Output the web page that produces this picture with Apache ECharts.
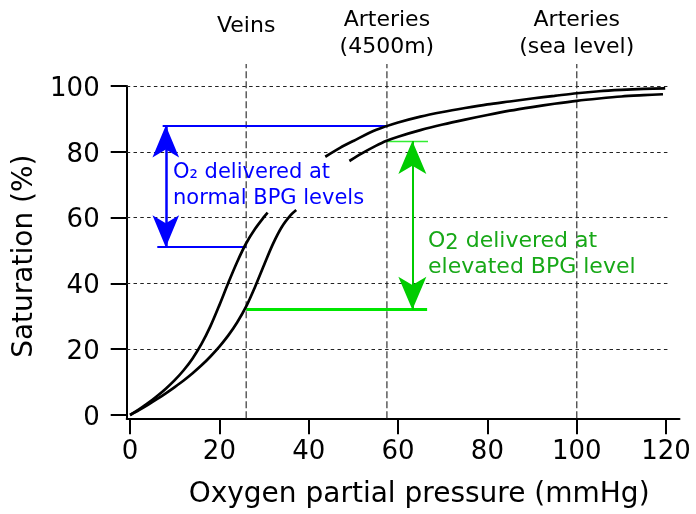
<!DOCTYPE html>
<html><head><meta charset="utf-8">
<script src="https://cdn.jsdelivr.net/npm/echarts@6/dist/echarts.min.js"></script>
<style>html,body{margin:0;padding:0;background:#fff}#c{width:696px;height:514px}</style>
</head><body><div id="c"></div><script>
// ---- data ----
const xTicks = [0, 20, 40, 60, 80, 100, 120];
const yTicks = [0, 20, 40, 60, 80, 100];
// saturation curve, normal BPG (left curve), split where the blue label sits
const normalLow = [[0,0],[2,1.7],[4,3.6],[6,5.7],[8,8],[10,10.6],[12,13.6],[14,17.2],[16,21.6],[18,27],
  [20,33.4],[22,40.2],[24,46.6],[26,52.2],[28,56.6],[30,60.2],[30.8,61.5]];
const normalHigh = [[43.7,78.5],[47,81.2],[50,83.3],[55,86.6],[60,88.9],[65,90.7],[70,92.1],[75,93.3],[80,94.4],
  [85,95.3],[90,96.2],[95,97],[100,97.8],[105,98.4],[110,98.8],[115,99.1],[119.8,99.3]];
// saturation curve, elevated BPG (right curve)
const elevatedLow = [[0,0],[2,1.5],[4,3.1],[6,4.8],[8,6.6],[10,8.5],[12,10.5],[14,12.7],[16,15.1],[18,17.8],
  [20,20.8],[22,24.2],[24,28.2],[26,33],[28,39],[30,45.6],[32,52],[34,57.2],[36,60.8],[37.2,62.3]];
const elevatedHigh = [[49.1,77.2],[52,79.6],[55,81.8],[57.3,83.3],[60,84.6],[65,86.6],[70,88.3],[75,89.8],[80,91.2],
  [85,92.5],[90,93.6],[95,94.6],[100,95.5],[105,96.2],[110,96.8],[115,97.2],[119.3,97.5]];
const refX = [26, 57.5, 100];
const refLabels = ['Veins', 'Arteries\n(4500m)', 'Arteries\n(sea level)'];
const normalSat = [51, 88];      // saturation at veins / at arteries (4500m), normal BPG
const elevatedSat = [32, 83.3];  // same, elevated BPG
const blueSpan = [6.1, 7.3, 8];  // bottom line start, top line start, arrow x
const greenSpan = [66.5, 66.7, 63.2]; // bottom line end, top line end, arrow x
const blueTextAt = [9.5, 69.6];
const greenTextAt = [66.6, 48.8];

const X_MIN = -0.75, X_MAX = 123, Y_MIN = -1, Y_MAX = 100, GRID_END = 121;
const FONT = 'DejaVu Sans';

const chart = echarts.init(document.getElementById('c'), null, {renderer: 'canvas'});

const curveStyle = {color: '#000', width: 2.7};
function curve(data) {
  return {type: 'line', data: data, smooth: 0.3, showSymbol: false, symbol: 'none',
    lineStyle: curveStyle, itemStyle: {color: '#000'}, z: 5, silent: true};
}
const noLabel = {show: false};
function arrowEnd(coord, size) {
  return {coord: coord, symbol: 'arrow', symbolSize: size};
}

chart.setOption({
  animation: false,
  backgroundColor: '#fff',
  grid: {left: 126.7, right: 16.5, top: 86, bottom: 95.7, containLabel: false},
  xAxis: {
    type: 'value', min: X_MIN, max: X_MAX,
    axisLine: {onZero: false, lineStyle: {color: '#000', width: 2}},
    axisTick: {customValues: xTicks, length: 16, lineStyle: {color: '#000', width: 2}},
    axisLabel: {customValues: xTicks, fontSize: 26, fontFamily: FONT, color: '#000', margin: 21},
    splitLine: {show: false},
    name: 'Oxygen partial pressure (mmHg)', nameLocation: 'middle', nameGap: 62,
    nameTextStyle: {fontSize: 28, fontFamily: FONT, color: '#000', padding: [0, 0, 0, 32]}
  },
  yAxis: {
    type: 'value', min: Y_MIN, max: Y_MAX,
    axisLine: {onZero: false, lineStyle: {color: '#000', width: 2}},
    axisTick: {customValues: yTicks, length: 16, lineStyle: {color: '#000', width: 2}},
    axisLabel: {customValues: yTicks, margin: 27, formatter: '{v|{value}}',
      rich: {v: {fontSize: 26, fontFamily: FONT, color: '#000', padding: [6, 0, 0, 0]}}},
    splitLine: {show: false},
    name: 'Saturation (%)', nameLocation: 'middle', nameGap: 84,
    nameTextStyle: {fontSize: 28, fontFamily: FONT, color: '#000', padding: [0, 8, 0, 0]}
  },
  series: [
    // horizontal dashed grid
    {type: 'line', data: [], silent: true,
      markLine: {silent: true, symbol: 'none', label: noLabel, animation: false,
        lineStyle: {type: [3.5, 3.3], color: '#222', width: 1.2},
        emphasis: {disabled: true},
        data: yTicks.filter(v => v > 0).map(v => [{coord: [X_MIN, v]}, {coord: [GRID_END, v]}])}},
    // vertical reference lines + labels
    {type: 'custom', data: refX.map(v => [v]), clip: false, silent: true, z: 1,
      renderItem: function (params, api) {
        const x = api.value(0);
        const b = api.coord([x, Y_MIN]);
        const t = api.coord([x, Y_MAX]);
        const label = refLabels[params.dataIndex];
        const two = label.indexOf('\n') >= 0;
        return {type: 'group', children: [
          {type: 'line', shape: {x1: b[0], y1: b[1], x2: t[0], y2: t[1] - 22},
            style: {stroke: '#444', lineWidth: 1.3, lineDash: [7, 3]}},
          {type: 'text', style: {text: label, x: t[0], y: t[1] - (two ? 52 : 60),
            align: 'center', verticalAlign: 'middle', fontSize: 22, fontFamily: FONT,
            fill: '#000', lineHeight: 27.5}}
        ]};
      }},
    curve(normalLow), curve(normalHigh), curve(elevatedLow), curve(elevatedHigh),
    // blue annotation lines
    {type: 'line', data: [], silent: true, z: 4,
      markLine: {silent: true, symbol: 'none', label: noLabel, animation: false, emphasis: {disabled: true},
        lineStyle: {type: 'solid', color: '#0000ff', width: 2},
        data: [
          [{coord: [blueSpan[0], normalSat[0]]}, {coord: [refX[0], normalSat[0]]}],
          [{coord: [blueSpan[1], normalSat[1]]}, {coord: [refX[1], normalSat[1]]}]
        ]},
      markPoint: {silent: true, symbol: 'circle', symbolSize: 1, itemStyle: {color: 'rgba(0,0,0,0)'},
        animation: false,
        label: {show: true, position: 'right', distance: 0, align: 'left', verticalAlign: 'middle',
          formatter: 'O\u2082 delivered at\nnormal BPG levels', color: '#0000ff',
          fontSize: 21, fontFamily: FONT, lineHeight: 26},
        data: [{coord: blueTextAt}]}},
    // blue double arrow
    {type: 'line', data: [], silent: true, z: 4,
      markLine: {silent: true, symbol: 'arrow', symbolSize: [20, 32], label: noLabel, animation: false,
        emphasis: {disabled: true},
        lineStyle: {type: 'solid', color: '#0000ff', width: 2.5},
        itemStyle: {color: '#0000ff'},
        data: [[arrowEnd([blueSpan[2], normalSat[0]], [20, 32]), arrowEnd([blueSpan[2], normalSat[1]], [20, 32])]]}},
    // green annotation lines
    {type: 'line', data: [], silent: true, z: 4,
      markLine: {silent: true, symbol: 'none', label: noLabel, animation: false, emphasis: {disabled: true},
        data: [
          [{coord: [refX[0], elevatedSat[0]], lineStyle: {type: 'solid', color: '#00e600', width: 3}},
           {coord: [greenSpan[0], elevatedSat[0]]}],
          [{coord: [refX[1], elevatedSat[1]], lineStyle: {type: 'solid', color: '#33ee33', width: 1.3}},
           {coord: [greenSpan[1], elevatedSat[1]]}]
        ]},
      markPoint: {silent: true, symbol: 'circle', symbolSize: 1, itemStyle: {color: 'rgba(0,0,0,0)'},
        animation: false,
        label: {show: true, position: 'right', distance: 0, align: 'left', verticalAlign: 'middle',
          formatter: '{t|O}{s|2}{t| delivered at}\n{t|elevated BPG level}',
          rich: {
            t: {color: '#17a817', fontSize: 22, fontFamily: FONT, lineHeight: 26.6},
            s: {color: '#17a817', fontSize: 21, fontFamily: FONT, lineHeight: 20.6, verticalAlign: 'bottom'}
          }},
        data: [{coord: greenTextAt}]}},
    // green double arrow
    {type: 'line', data: [], silent: true, z: 4,
      markLine: {silent: true, symbol: 'arrow', symbolSize: [21, 33], label: noLabel, animation: false,
        emphasis: {disabled: true},
        lineStyle: {type: 'solid', color: '#00cc00', width: 2},
        itemStyle: {color: '#00cc00'},
        data: [[arrowEnd([greenSpan[2], elevatedSat[0]], [21, 33]), arrowEnd([greenSpan[2], elevatedSat[1]], [21, 33])]]}}
  ]
});
</script></body></html>
